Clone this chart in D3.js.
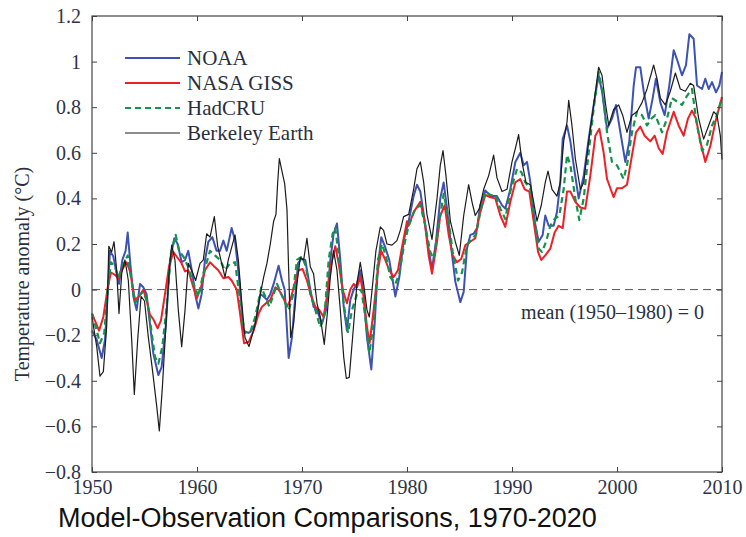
<!DOCTYPE html>
<html>
<head>
<meta charset="utf-8">
<script src="https://cdn.jsdelivr.net/npm/d3@7"></script>
<style>
  html, body { margin: 0; padding: 0; background: #fff; }
  svg { display: block; }
</style>
</head>
<body>
<svg id="chart" width="746" height="537"></svg>
<script>
// Global temperature anomaly records, [decimal year, anomaly in °C]
const noaa = [
  [1950.0,-0.18],[1950.45,-0.22],[1950.92,-0.30],[1951.24,-0.22],[1951.5,-0.02],[1951.71,0.17],
  [1952.03,0.145],[1952.35,0.07],[1952.57,0.025],[1952.89,0.13],[1953.2,0.17],[1953.4,0.25],
  [1953.62,0.13],[1953.94,-0.03],[1954.25,-0.09],[1954.57,0.025],[1954.89,0.01],[1955.2,-0.02],
  [1955.52,-0.15],[1955.84,-0.28],[1956.32,-0.375],[1956.63,-0.34],[1957.02,-0.165],[1957.43,0.13],
  [1957.84,0.225],[1958.16,0.20],[1958.54,0.12],[1958.86,0.13],[1959.17,0.17],[1959.56,0.07],
  [1959.87,-0.03],[1960.13,-0.083],[1960.44,-0.02],[1960.76,0.13],[1961.08,0.21],[1961.46,0.23],
  [1961.87,0.17],[1962.19,0.17],[1962.51,0.215],[1962.83,0.17],[1963.3,0.27],[1963.62,0.215],
  [1964.0,0.055],[1964.41,-0.18],[1964.89,-0.19],[1965.08,-0.185],[1965.55,-0.15],[1966.03,-0.02],
  [1966.35,-0.03],[1966.66,-0.045],[1966.98,-0.02],[1967.3,0.025],[1967.77,0.105],[1968.09,0.04],
  [1968.35,0.0],[1968.73,-0.30],[1969.04,-0.21],[1969.36,-0.03],[1969.62,0.115],[1969.93,0.135],
  [1970.31,0.13],[1970.7,0.025],[1971.1,-0.075],[1971.43,-0.09],[1971.9,-0.15],[1972.28,-0.09],
  [1972.7,0.13],[1973.01,0.245],[1973.33,0.29],[1973.65,0.13],[1973.97,-0.075],[1974.28,-0.18],
  [1974.6,-0.045],[1974.92,0.0],[1975.23,0.025],[1975.55,0.085],[1975.87,-0.02],[1976.19,-0.21],
  [1976.6,-0.35],[1976.92,-0.15],[1977.23,0.10],[1977.55,0.23],[1977.93,0.185],[1978.31,0.13],
  [1978.89,-0.03],[1979.27,0.055],[1979.68,0.215],[1980.16,0.30],[1980.63,0.41],[1980.95,0.46],
  [1981.27,0.43],[1981.59,0.33],[1982.0,0.195],[1982.38,0.09],[1982.76,0.21],[1983.17,0.40],
  [1983.49,0.47],[1983.81,0.355],[1984.22,0.18],[1984.6,0.035],[1985.08,-0.055],[1985.4,-0.01],
  [1985.71,0.18],[1986.03,0.24],[1986.35,0.245],[1986.67,0.27],[1986.98,0.37],[1987.46,0.435],
  [1987.94,0.41],[1988.57,0.41],[1989.05,0.37],[1989.36,0.355],[1989.84,0.44],[1990.32,0.56],
  [1990.79,0.60],[1991.11,0.545],[1991.43,0.56],[1991.75,0.47],[1992.16,0.30],[1992.54,0.21],
  [1992.92,0.24],[1993.17,0.325],[1993.49,0.28],[1993.97,0.28],[1994.28,0.34],[1994.6,0.47],
  [1994.83,0.66],[1995.24,0.72],[1995.56,0.65],[1995.97,0.515],[1996.35,0.40],[1996.83,0.50],
  [1997.3,0.66],[1997.78,0.81],[1998.25,0.94],[1998.57,0.87],[1999.05,0.705],[1999.52,0.75],
  [1999.9,0.81],[2000.32,0.69],[2000.79,0.56],[2001.17,0.65],[2001.59,0.895],[2001.81,0.975],
  [2002.22,0.975],[2002.54,0.87],[2003.02,0.75],[2003.4,0.84],[2003.71,0.925],[2004.13,0.82],
  [2004.54,0.765],[2004.98,0.895],[2005.4,1.05],[2005.71,1.01],[2006.19,0.94],[2006.57,0.985],
  [2006.89,1.12],[2007.3,1.10],[2007.62,0.895],[2008.1,0.88],[2008.41,0.925],[2008.73,0.88],
  [2009.05,0.91],[2009.43,0.865],[2009.75,0.895],[2010.0,0.955]
];

const nasaGiss = [
  [1950.0,-0.105],[1950.45,-0.155],[1950.67,-0.18],[1951.08,-0.12],[1951.5,0.01],[1951.81,0.075],
  [1952.19,0.065],[1952.5,0.05],[1952.83,0.085],[1953.3,0.12],[1953.62,0.08],[1954.1,-0.045],
  [1954.48,-0.03],[1954.89,0.0],[1955.2,-0.045],[1955.52,-0.11],[1955.84,-0.13],[1956.25,-0.17],
  [1956.57,-0.135],[1956.95,-0.02],[1957.33,0.10],[1957.75,0.165],[1958.06,0.145],[1958.48,0.12],
  [1958.86,0.08],[1959.17,0.085],[1959.56,0.025],[1959.97,-0.04],[1960.38,0.01],[1960.76,0.085],
  [1961.24,0.12],[1961.56,0.105],[1962.03,0.085],[1962.51,0.05],[1962.98,0.055],[1963.3,0.04],
  [1963.78,0.0],[1964.1,-0.105],[1964.48,-0.235],[1964.92,-0.23],[1965.39,-0.18],[1965.87,-0.105],
  [1966.19,-0.075],[1966.57,-0.06],[1966.98,-0.045],[1967.46,0.01],[1967.77,0.0],[1968.16,-0.03],
  [1968.57,-0.075],[1968.89,-0.045],[1969.3,0.025],[1969.68,0.085],[1970.06,0.09],[1970.47,0.04],
  [1970.89,-0.03],[1971.27,-0.075],[1971.65,-0.09],[1972.06,-0.12],[1972.38,-0.03],[1972.79,0.115],
  [1973.17,0.19],[1973.49,0.115],[1973.87,0.0],[1974.28,-0.06],[1974.6,0.0],[1974.92,0.025],
  [1975.23,0.01],[1975.55,0.055],[1975.87,-0.03],[1976.19,-0.165],[1976.44,-0.235],[1976.82,-0.09],
  [1977.23,0.085],[1977.55,0.17],[1977.93,0.13],[1978.31,0.085],[1978.73,0.055],[1979.14,0.085],
  [1979.52,0.185],[1980.0,0.30],[1980.16,0.28],[1980.63,0.34],[1981.27,0.385],[1981.68,0.30],
  [1982.06,0.15],[1982.38,0.07],[1982.86,0.21],[1983.17,0.325],[1983.59,0.37],[1983.97,0.24],
  [1984.35,0.15],[1984.76,0.12],[1985.17,0.135],[1985.56,0.195],[1986.03,0.21],[1986.5,0.225],
  [1986.89,0.325],[1987.46,0.415],[1987.94,0.405],[1988.41,0.40],[1988.89,0.325],[1989.36,0.275],
  [1989.84,0.385],[1990.32,0.47],[1990.79,0.485],[1991.21,0.44],[1991.65,0.43],[1992.06,0.30],
  [1992.48,0.165],[1992.79,0.13],[1993.17,0.15],[1993.65,0.18],[1994.06,0.25],[1994.44,0.28],
  [1994.83,0.27],[1995.24,0.43],[1995.56,0.43],[1996.03,0.385],[1996.51,0.36],[1996.98,0.355],
  [1997.46,0.50],[1997.94,0.675],[1998.32,0.705],[1998.73,0.60],[1999.05,0.485],[1999.68,0.405],
  [2000.0,0.445],[2000.48,0.445],[2000.95,0.46],[2001.43,0.59],[2001.81,0.69],[2002.22,0.715],
  [2002.63,0.675],[2003.17,0.65],[2003.59,0.675],[2003.97,0.62],[2004.35,0.595],[2004.76,0.69],
  [2005.4,0.78],[2005.87,0.72],[2006.35,0.675],[2006.76,0.75],[2007.14,0.785],[2007.52,0.75],
  [2007.94,0.65],[2008.41,0.56],[2008.89,0.63],[2009.37,0.735],[2010.0,0.845]
];

const hadCru = [
  [1950.0,-0.105],[1950.45,-0.18],[1950.76,-0.235],[1951.17,-0.19],[1951.5,0.0],[1951.81,0.12],
  [1952.19,0.10],[1952.5,0.055],[1952.89,0.10],[1953.4,0.15],[1953.71,0.055],[1954.1,-0.06],
  [1954.48,-0.025],[1954.89,-0.01],[1955.3,-0.06],[1955.68,-0.19],[1956.0,-0.295],[1956.32,-0.325],
  [1956.7,-0.25],[1957.11,-0.075],[1957.52,0.16],[1957.97,0.24],[1958.29,0.17],[1958.7,0.145],
  [1959.11,0.105],[1959.56,0.04],[1960.13,-0.03],[1960.6,0.07],[1961.24,0.17],[1961.71,0.15],
  [1962.19,0.13],[1962.67,0.085],[1963.14,0.115],[1963.62,0.12],[1964.1,-0.045],[1964.51,-0.19],
  [1964.89,-0.185],[1965.08,-0.185],[1965.55,-0.12],[1966.12,0.01],[1966.5,-0.03],[1966.89,-0.075],
  [1967.3,-0.02],[1967.62,0.025],[1968.03,-0.02],[1968.41,-0.06],[1968.73,-0.09],[1969.11,-0.03],
  [1969.52,0.13],[1969.99,0.145],[1970.38,0.10],[1970.79,-0.02],[1971.27,-0.09],[1971.74,-0.165],
  [1972.16,-0.105],[1972.54,0.13],[1972.92,0.245],[1973.17,0.27],[1973.55,0.13],[1973.97,-0.06],
  [1974.38,-0.19],[1974.76,-0.09],[1975.23,-0.02],[1975.65,0.0],[1976.03,-0.12],[1976.41,-0.28],
  [1976.82,-0.15],[1977.23,0.13],[1977.62,0.20],[1978.0,0.145],[1978.41,0.055],[1978.89,0.025],
  [1979.27,0.07],[1979.68,0.185],[1980.16,0.28],[1980.79,0.355],[1981.27,0.37],[1981.74,0.28],
  [1982.22,0.165],[1982.54,0.135],[1983.02,0.28],[1983.49,0.42],[1983.9,0.325],[1984.35,0.165],
  [1984.86,0.04],[1985.24,0.075],[1985.71,0.195],[1986.19,0.225],[1986.57,0.24],[1986.98,0.34],
  [1987.46,0.43],[1987.94,0.415],[1988.41,0.415],[1988.89,0.355],[1989.36,0.31],[1989.84,0.43],
  [1990.48,0.53],[1990.89,0.515],[1991.27,0.47],[1991.75,0.44],[1992.16,0.30],[1992.54,0.18],
  [1992.86,0.165],[1993.24,0.21],[1993.65,0.28],[1994.06,0.31],[1994.51,0.325],[1994.92,0.44],
  [1995.24,0.59],[1995.56,0.545],[1996.03,0.40],[1996.41,0.305],[1996.83,0.40],[1997.3,0.60],
  [1997.78,0.795],[1998.25,0.955],[1998.63,0.865],[1999.05,0.69],[1999.52,0.56],[2000.0,0.545],
  [2000.63,0.485],[2000.95,0.545],[2001.43,0.69],[2001.9,0.78],[2002.38,0.765],[2002.86,0.72],
  [2003.27,0.75],[2003.65,0.765],[2004.29,0.69],[2004.76,0.75],[2005.24,0.84],[2005.71,0.825],
  [2006.19,0.81],[2006.67,0.85],[2007.14,0.88],[2007.62,0.72],[2008.1,0.61],[2008.57,0.635],
  [2009.05,0.72],[2009.52,0.765],[2010.0,0.845]
];

const berkeley = [
  [1950.0,-0.12],[1950.45,-0.25],[1950.76,-0.38],[1951.08,-0.36],[1951.4,-0.16],[1951.6,0.19],
  [1951.87,0.165],[1952.1,0.21],[1952.35,0.085],[1952.57,-0.105],[1952.83,0.07],[1953.14,0.13],
  [1953.46,0.04],[1953.78,-0.22],[1954.03,-0.46],[1954.35,-0.22],[1954.67,-0.03],[1955.0,-0.05],
  [1955.37,-0.21],[1955.75,-0.35],[1956.16,-0.51],[1956.41,-0.62],[1956.7,-0.43],[1957.0,-0.19],
  [1957.33,0.07],[1957.59,0.195],[1957.9,0.13],[1958.22,-0.09],[1958.54,-0.25],[1958.86,-0.09],
  [1959.17,0.115],[1959.49,0.085],[1959.87,0.04],[1960.29,0.115],[1960.6,0.13],[1960.92,0.245],
  [1961.24,0.23],[1961.65,0.32],[1961.97,0.19],[1962.35,0.115],[1962.67,0.055],[1962.98,0.13],
  [1963.62,0.24],[1963.94,0.13],[1964.25,-0.05],[1964.57,-0.21],[1964.95,-0.25],[1965.55,-0.15],
  [1966.03,-0.02],[1966.35,0.055],[1966.66,0.115],[1966.98,0.20],[1967.3,0.30],[1967.52,0.33],
  [1967.68,0.465],[1967.84,0.575],[1968.09,0.52],[1968.35,0.465],[1968.57,0.35],[1968.73,0.085],
  [1968.92,-0.21],[1969.2,-0.15],[1969.52,0.025],[1969.84,0.14],[1970.16,0.13],[1970.47,0.225],
  [1970.79,0.10],[1971.1,0.07],[1971.43,-0.06],[1971.74,-0.12],[1972.12,-0.24],[1972.38,-0.12],
  [1972.7,0.055],[1973.01,0.17],[1973.33,0.085],[1973.65,-0.09],[1973.97,-0.295],[1974.22,-0.39],
  [1974.5,-0.385],[1974.82,-0.21],[1975.23,0.025],[1975.55,0.12],[1975.87,0.025],[1976.19,-0.09],
  [1976.41,-0.12],[1976.73,0.025],[1977.04,0.17],[1977.46,0.275],[1977.77,0.26],[1978.09,0.20],
  [1978.57,0.195],[1979.04,0.215],[1979.36,0.26],[1979.68,0.32],[1980.16,0.33],[1980.63,0.44],
  [1980.95,0.53],[1981.27,0.56],[1981.59,0.47],[1981.9,0.33],[1982.38,0.22],[1982.86,0.40],
  [1983.17,0.545],[1983.43,0.61],[1983.71,0.50],[1984.13,0.30],[1984.6,0.21],[1984.98,0.15],
  [1985.4,0.325],[1985.87,0.46],[1986.19,0.385],[1986.5,0.325],[1986.89,0.355],[1987.3,0.44],
  [1987.78,0.50],[1988.25,0.59],[1988.57,0.49],[1989.05,0.43],[1989.52,0.44],[1990.0,0.56],
  [1990.38,0.63],[1990.63,0.68],[1990.95,0.56],[1991.33,0.47],[1991.75,0.46],[1992.06,0.385],
  [1992.38,0.30],[1992.79,0.37],[1993.17,0.47],[1993.43,0.52],[1993.81,0.44],[1994.28,0.41],
  [1994.6,0.47],[1994.92,0.65],[1995.24,0.735],[1995.4,0.83],[1995.71,0.72],[1996.03,0.575],
  [1996.51,0.44],[1996.83,0.47],[1997.3,0.65],[1997.78,0.81],[1998.25,0.975],[1998.57,0.94],
  [1998.89,0.82],[1999.21,0.72],[1999.68,0.79],[2000.16,0.81],[2000.54,0.765],[2000.95,0.69],
  [2001.43,0.765],[2001.9,0.78],[2002.38,0.82],[2002.86,0.88],[2003.49,0.985],[2003.81,0.925],
  [2004.13,0.84],[2004.6,0.81],[2005.08,0.87],[2005.56,0.95],[2006.03,0.88],[2006.51,0.87],
  [2006.98,0.905],[2007.3,0.895],[2007.78,0.75],[2008.25,0.66],[2008.73,0.72],[2009.21,0.78],
  [2009.52,0.765],[2009.84,0.675],[2010.0,0.57]
];

const seriesNames = ["NOAA", "NASA GISS", "HadCRU", "Berkeley Earth"];
const seriesData = [noaa, nasaGiss, hadCru, berkeley];
const xTicks = [1950, 1960, 1970, 1980, 1990, 2000, 2010];
const yTicks = [-0.8, -0.6, -0.4, -0.2, 0, 0.2, 0.4, 0.6, 0.8, 1, 1.2];
const baselineNote = "mean (1950\u20131980) = 0";
const yTitle = "Temperature anomaly (\u00B0C)";
const chartTitle = "Model-Observation Comparisons, 1970-2020";

// Line styles per series
const styles = [
  { color: "#3d52b4", width: 2.0, dash: null },
  { color: "#ee2027", width: 2.0, dash: null },
  { color: "#14934a", width: 2.2, dash: "6,4" },
  { color: "#1c1c1c", width: 1.2, dash: null }
];

const svg = d3.select("#chart");
const plotLeft = 92, plotRight = 722, plotTop = 16, plotBottom = 472;

const x = d3.scaleLinear().domain([1950, 2010]).range([plotLeft, plotRight]);
const y = d3.scaleLinear().domain([-0.8, 1.2]).range([plotBottom, plotTop]);

const serif = "'Liberation Serif', 'Times New Roman', serif";
const tickColor = "#2e3447";

// Zero reference line
svg.append("line")
  .attr("x1", x(1950)).attr("x2", x(2010))
  .attr("y1", y(0)).attr("y2", y(0))
  .attr("stroke", "#555").attr("stroke-width", 1)
  .attr("stroke-dasharray", "8,5");

// Series lines
const line = d3.line().x(d => x(d[0])).y(d => y(d[1]));
svg.append("g").selectAll("path")
  .data(seriesData)
  .join("path")
  .attr("d", line)
  .attr("fill", "none")
  .attr("stroke", (d, i) => styles[i].color)
  .attr("stroke-width", (d, i) => styles[i].width)
  .attr("stroke-dasharray", (d, i) => styles[i].dash)
  .attr("stroke-linejoin", "round");

// Axes with inward ticks on all four sides
const fmt = d3.format("~g");
function styleAxis(g, showLabels) {
  g.select(".domain").remove();
  g.selectAll(".tick line").attr("stroke", "#444").attr("stroke-width", 1);
  g.selectAll(".tick text")
    .attr("fill", tickColor)
    .style("font-family", serif)
    .style("font-size", "20px");
  if (!showLabels) g.selectAll(".tick text").remove();
}

svg.append("g").attr("transform", `translate(${plotLeft},0)`)
  .call(d3.axisLeft(y).tickValues(yTicks).tickFormat(fmt).tickSize(-5).tickPadding(11))
  .call(g => styleAxis(g, true));
svg.append("g").attr("transform", `translate(${plotRight},0)`)
  .call(d3.axisRight(y).tickValues(yTicks).tickSize(-5))
  .call(g => styleAxis(g, false));
svg.append("g").attr("transform", `translate(0,${plotBottom})`)
  .call(d3.axisBottom(x).tickValues(xTicks).tickFormat(d3.format("d")).tickSize(-5).tickPadding(8))
  .call(g => styleAxis(g, true));
svg.append("g").attr("transform", `translate(0,${plotTop})`)
  .call(d3.axisTop(x).tickValues(xTicks).tickSize(-5))
  .call(g => styleAxis(g, false));

// Plot frame
svg.append("rect")
  .attr("x", plotLeft).attr("y", plotTop)
  .attr("width", plotRight - plotLeft).attr("height", plotBottom - plotTop)
  .attr("fill", "none").attr("stroke", "#444").attr("stroke-width", 1.2);

// Legend
const legend = svg.append("g");
const legendRows = [58, 83, 108, 133];
seriesNames.forEach((name, i) => {
  legend.append("line")
    .attr("x1", 125).attr("x2", 180)
    .attr("y1", legendRows[i]).attr("y2", legendRows[i])
    .attr("stroke", styles[i].color)
    .attr("stroke-width", styles[i].width)
    .attr("stroke-dasharray", styles[i].dash);
  legend.append("text")
    .attr("x", 187).attr("y", legendRows[i] + 7)
    .attr("fill", "#2a2f40")
    .style("font-family", serif).style("font-size", "21px")
    .text(name);
});

// Baseline note
svg.append("text")
  .attr("x", 704).attr("y", 319)
  .attr("text-anchor", "end")
  .attr("fill", "#2a2f40")
  .style("font-family", serif).style("font-size", "20px")
  .text(baselineNote);

// Y axis title
svg.append("text")
  .attr("transform", "translate(29,274) rotate(-90)")
  .attr("text-anchor", "middle")
  .attr("fill", "#2a2f40")
  .style("font-family", serif).style("font-size", "20px")
  .text(yTitle);

// Chart title
svg.append("text")
  .attr("x", 58).attr("y", 527)
  .attr("fill", "#111")
  .style("font-family", "'Liberation Sans', Arial, sans-serif").style("font-size", "27px")
  .text(chartTitle);
</script>
</body>
</html>
